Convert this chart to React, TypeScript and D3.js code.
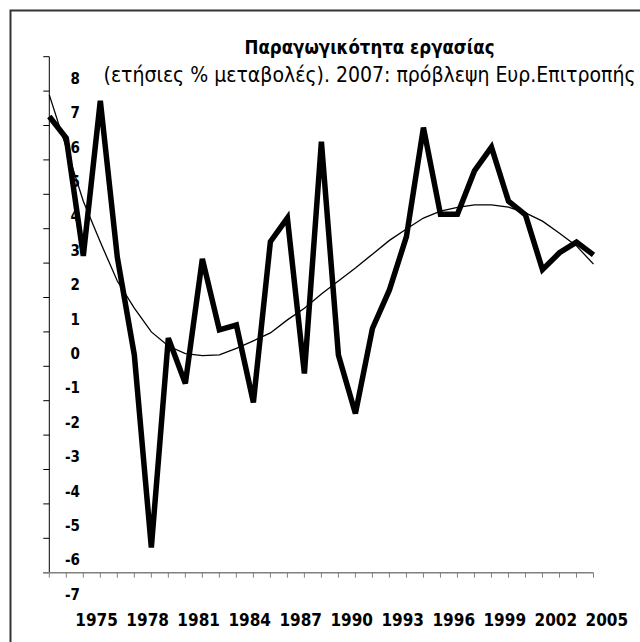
import React, { useRef, useEffect } from 'react';
import * as d3 from 'd3';

// yearly data points (thick line) and the smoothed trend (thin line)
const years = d3.range(1972, 2005);
const productivity = [
  6.26, 5.63, 2.21, 6.72, 2.17, -0.67, -6.27, -0.18, -1.50, 2.12, 0.06,
  0.20, -2.05, 2.62, 3.31, -1.21, 5.53, -0.67, -2.37, 0.10, 1.22, 2.77,
  5.94, 3.42, 3.42, 4.68, 5.37, 3.80, 3.40, 1.81, 2.30, 2.61, 2.24,
];
const trend = [
  6.89, 5.35, 3.80, 2.61, 1.48, 0.69, 0.0, -0.41, -0.63, -0.69, -0.67,
  -0.48, -0.26, -0.03, 0.35, 0.69, 1.10, 1.48, 1.86, 2.26, 2.66, 2.99,
  3.31, 3.51, 3.62, 3.69, 3.69, 3.63, 3.46, 3.22, 2.87, 2.50, 1.97,
];
const yTicks = d3.range(-7, 9);
const xLabels = d3.range(1975, 2006, 3);

const title = 'Παραγωγικότητα εργασίας';
const subtitle = '(ετήσιες % μεταβολές). 2007: πρόβλεψη Ευρ.Επιτροπής';

const FONT = "'DejaVu Sans Condensed', 'Liberation Sans Narrow', sans-serif";

const App: React.FC = () => {
  const chartRef = useRef(null);

  useEffect(() => {
    document.body.style.margin = '0';
    d3.select(chartRef.current).select('svg').remove();

    const width = 640;
    const height = 642;

    const svg = d3.select(chartRef.current)
      .append('svg')
      .attr('width', width)
      .attr('height', height)
      .style('display', 'block')
      .style('background', '#fff');

    const x = d3.scaleLinear().domain([1972, 2004]).range([49.3, 593.5]);
    const y = d3.scaleLinear().domain([-7, 8]).range([572.7, 56.7]);

    // frame (only top and left edges are visible)
    svg.append('path')
      .attr('d', `M10.5,${height} V10.5 H${width}`)
      .attr('fill', 'none')
      .attr('stroke', '#333')
      .attr('stroke-width', 2);

    // two-line title, both lines centred on the same point
    const titleX = 369.5;
    svg.append('text')
      .attr('x', titleX)
      .attr('y', 53.5)
      .attr('text-anchor', 'middle')
      .attr('textLength', 250)
      .attr('lengthAdjust', 'spacingAndGlyphs')
      .style('font-family', FONT)
      .style('font-weight', 'bold')
      .style('font-size', '18.5px')
      .text(title);

    svg.append('text')
      .attr('x', titleX)
      .attr('y', 81.5)
      .attr('text-anchor', 'middle')
      .attr('textLength', 532)
      .attr('lengthAdjust', 'spacingAndGlyphs')
      .style('font-family', FONT)
      .style('font-size', '20.5px')
      .text(subtitle);

    // y axis
    svg.append('line')
      .attr('x1', x(1972)).attr('x2', x(1972))
      .attr('y1', y(8)).attr('y2', y(-7))
      .attr('stroke', '#000')
      .attr('stroke-width', 1);

    svg.selectAll('.yTick')
      .data(yTicks)
      .enter().append('line')
      .attr('class', 'yTick')
      .attr('x1', x(1972) - 6).attr('x2', x(1972))
      .attr('y1', d => y(d)).attr('y2', d => y(d))
      .attr('stroke', '#000')
      .attr('stroke-width', 1);

    svg.selectAll('.yLabel')
      .data(yTicks)
      .enter().append('text')
      .attr('class', 'yLabel')
      .attr('x', 80)
      .attr('y', d => y(d) + 27)
      .attr('text-anchor', 'end')
      .style('font-family', FONT)
      .style('font-weight', 'bold')
      .style('font-size', '15px')
      .text(d => d.toString());

    // x axis
    svg.append('line')
      .attr('x1', x(1972) - 6).attr('x2', x(2004))
      .attr('y1', y(-7)).attr('y2', y(-7))
      .attr('stroke', '#808080')
      .attr('stroke-width', 1.5);

    svg.selectAll('.xTick')
      .data(years)
      .enter().append('line')
      .attr('class', 'xTick')
      .attr('x1', d => x(d)).attr('x2', d => x(d))
      .attr('y1', y(-7)).attr('y2', y(-7) + 5)
      .attr('stroke', '#808080')
      .attr('stroke-width', 1);

    svg.selectAll('.xLabel')
      .data(xLabels)
      .enter().append('text')
      .attr('class', 'xLabel')
      .attr('x', d => x(d) - 3.7)
      .attr('y', 626)
      .attr('text-anchor', 'middle')
      .style('font-family', FONT)
      .style('font-weight', 'bold')
      .style('font-size', '17px')
      .text(d => d.toString());

    // trend line
    const line = d3.line<number>()
      .x((d, i) => x(years[i]))
      .y(d => y(d));

    svg.append('path')
      .datum(trend)
      .attr('d', line)
      .attr('fill', 'none')
      .attr('stroke', '#000')
      .attr('stroke-width', 1.3);

    svg.append('path')
      .datum(productivity)
      .attr('d', line)
      .attr('fill', 'none')
      .attr('stroke', '#000')
      .attr('stroke-width', 5.5);
  }, []);

  return <div ref={chartRef} />;
};

export default App;
